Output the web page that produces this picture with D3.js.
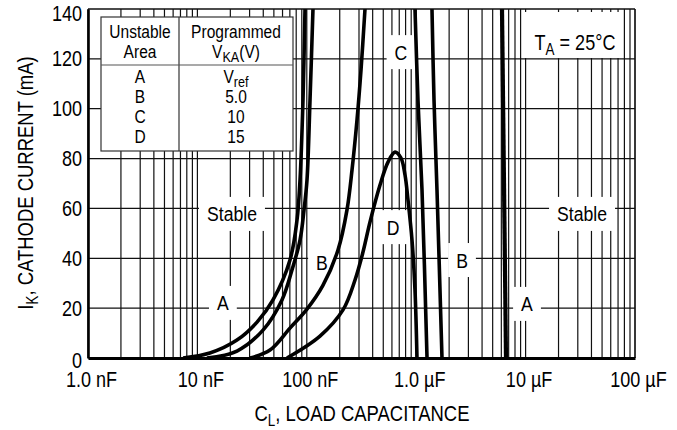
<!DOCTYPE html>
<html>
<head>
<meta charset="utf-8">
<script src="https://cdnjs.cloudflare.com/ajax/libs/d3/7.8.5/d3.min.js"></script>
<style>
  body { margin: 0; background: #fff; }
  svg text { font-family: "Liberation Sans", Arial, sans-serif; fill: #000; }
</style>
</head>
<body>
<svg id="chart" width="677" height="430"></svg>
<script>
const width = 677, height = 430;
const margin = {top: 9, right: 42, bottom: 72, left: 88};
const narrow = 0.84; // the source uses a condensed face

// capacitance in nF, cathode current in mA
const xTicks = [1, 10, 100, 1000, 10000, 100000];
const xTickLabels = ["1.0 nF", "10 nF", "100 nF", "1.0 µF", "10 µF", "100 µF"];
const yTicks = [0, 20, 40, 60, 80, 100, 120, 140];

// boundary curves [capacitance nF, current mA]
const curveALeft = [[7.4,0],[13.0,2.0],[23.0,7.2],[35.1,14.4],[49.1,23.3],[70.2,39.3],[81.4,55.4],[86.7,71.4],[92.3,103.5],[96.3,140]];
const curveBLeft = [[12.2,0],[23.0,2.8],[39.8,11.2],[59.3,23.3],[73.2,35.3],[86.7,47.3],[94.3,59.4],[100.4,71.4],[107.0,103.5],[113.9,140]];
const curveCLeft = [[30.3,0],[46.1,3.2],[70.2,12.0],[100,19.5],[140,29],[192.8,43.3],[233,59.4],[259,75.4],[287.7,95.5],[312.9,115.5],[340.4,140]];
const curveD = [[65.9,0],[132,8.8],[214.2,19.3],[275.9,31.3],[326.3,42.5],[378.4,54.6],[466.9,69.4],[552.4,78.6],[640.1,82.6],[726.6,80.2],[790.4,73.4],[841.4,63.4],[915.4,47.3],[974.7,27.3],[1016.5,0]];
const curveCRight = [[974.7,140],[1038,103.5],[1130,67.4],[1256,0]];
const curveBRight = [[1394,140],[1455,103.5],[1549,67.4],[1721,0]];
const curveARight = [[6085,140],[6620,0]];

// region labels [text, capacitance nF, current mA]
const regionLabels = [
  ["Stable", 20.7, 57.8],
  ["Stable", 32800, 57.8],
  ["A", 17.1, 22.1],
  ["B", 137.7, 38.5],
  ["C", 726, 122.7],
  ["D", 614, 52.5],
  ["B", 2623, 39.3],
  ["A", 10300, 21.7]
];

// legend table
const tableAreas = ["A", "B", "C", "D"];
const tableVolts = [["V", "ref"], ["5.0", ""], ["10", ""], ["15", ""]];

const svg = d3.select("#chart");

// put a text at (px, py) and squeeze it horizontally
function narrowText(parent, px, py, size, anchor) {
  return parent.append("text")
    .attr("transform", `translate(${px}, ${py}) scale(${narrow}, 1)`)
    .attr("text-anchor", anchor || "middle")
    .attr("font-size", size);
}

const x = d3.scaleLog()
  .domain([1, 100000])
  .range([margin.left, width - margin.right]);
const y = d3.scaleLinear()
  .domain([0, 140])
  .range([height - margin.bottom, margin.top]);

// grid
let minorCaps = [];
for (let d = 1; d < 100000; d *= 10) {
  for (let k = 1; k < 10; k++) minorCaps.push(d * k);
}
minorCaps.push(100000);

svg.append("g")
  .selectAll("line")
  .data(minorCaps).enter()
  .append("line")
  .attr("x1", d => x(d)).attr("x2", d => x(d))
  .attr("y1", y(0)).attr("y2", y(140))
  .attr("stroke", "#111")
  .attr("stroke-width", 1.2);

svg.append("g")
  .selectAll("line")
  .data(yTicks).enter()
  .append("line")
  .attr("x1", x(1)).attr("x2", x(100000))
  .attr("y1", d => y(d)).attr("y2", d => y(d))
  .attr("stroke", "#111")
  .attr("stroke-width", 1.2);

// label boxes (white, cut the grid)
const labelG = svg.append("g");
regionLabels.forEach(([t, c, i]) => {
  let txt = narrowText(labelG, x(c), y(i), 21).attr("dy", "0.36em").text(t);
  let w = txt.node().getBBox().width * narrow;
  labelG.insert("rect", "text")
    .attr("x", x(c) - w / 2 - 8).attr("y", y(i) - 17)
    .attr("width", w + 16).attr("height", 34)
    .attr("fill", "#fff");
});

// table
const tab = {x: 101, y: 17, w: 192, h: 134, col: 179, head: 65};
const tg = svg.append("g");
tg.append("rect")
  .attr("x", tab.x).attr("y", tab.y).attr("width", tab.w).attr("height", tab.h)
  .attr("fill", "#fff").attr("stroke", "#333").attr("stroke-width", 1.2);
tg.append("line")
  .attr("x1", tab.col).attr("x2", tab.col).attr("y1", tab.y).attr("y2", tab.y + tab.h)
  .attr("stroke", "#333").attr("stroke-width", 1.2);
tg.append("line")
  .attr("x1", tab.x).attr("x2", tab.x + tab.w).attr("y1", tab.head).attr("y2", tab.head)
  .attr("stroke", "#555").attr("stroke-width", 1.2);

const c1 = (tab.x + tab.col) / 2, c2 = (tab.col + tab.x + tab.w) / 2;
narrowText(tg, c1, 38, 18.5).text("Unstable");
narrowText(tg, c1, 58, 18.5).text("Area");
narrowText(tg, c2, 38, 18.5).text("Programmed");
let vka = narrowText(tg, c2, 58, 18.5);
vka.append("tspan").text("V");
vka.append("tspan").attr("dy", 4).attr("font-size", 15).text("KA");
vka.append("tspan").attr("dy", -4).text("(V)");

tableAreas.forEach((a, i) => {
  let yy = 83 + i * 20;
  narrowText(tg, c1, yy, 18.5).text(a);
  let t = narrowText(tg, c2, yy, 18.5);
  t.append("tspan").text(tableVolts[i][0]);
  if (tableVolts[i][1]) t.append("tspan").attr("dy", 4).attr("font-size", 15).text(tableVolts[i][1]);
});

// temperature box
const ta = svg.append("g");
ta.append("rect").attr("x", 523).attr("y", 12).attr("width", 100).attr("height", 46).attr("fill", "#fff");
let tat = narrowText(ta, 575, 50, 21.5);
tat.append("tspan").text("T");
tat.append("tspan").attr("dy", 5).attr("font-size", 16).text("A");
tat.append("tspan").attr("dy", -5).text(" = 25°C");

// curves
const line = d3.line()
  .x(d => x(d[0]))
  .y(d => y(d[1]))
  .curve(d3.curveCatmullRom.alpha(0.5));

svg.append("clipPath").attr("id", "plot-clip")
  .append("rect")
  .attr("x", margin.left).attr("y", margin.top)
  .attr("width", width - margin.left - margin.right)
  .attr("height", height - margin.top - margin.bottom);

svg.append("g")
  .attr("clip-path", "url(#plot-clip)")
  .selectAll("path")
  .data([curveALeft, curveBLeft, curveCLeft, curveD, curveCRight, curveBRight, curveARight]).enter()
  .append("path")
  .attr("d", line)
  .attr("fill", "none")
  .attr("stroke", "#000")
  .attr("stroke-width", (d, i) => i === 6 ? 4.2 : 3.6)
  .attr("stroke-linecap", "butt");

// frame
svg.append("line").attr("x1", x(1)).attr("x2", x(100000)).attr("y1", y(140)).attr("y2", y(140))
  .attr("stroke", "#111").attr("stroke-width", 1.2);
svg.append("line").attr("x1", x(100000)).attr("x2", x(100000)).attr("y1", y(0)).attr("y2", y(140))
  .attr("stroke", "#111").attr("stroke-width", 1.2);

// axes
const xAxis = d3.axisBottom(x).tickValues(xTicks).tickFormat((d, i) => xTickLabels[i]).tickSize(0).tickPadding(14);
const gx = svg.append("g").attr("transform", `translate(0, ${y(0)})`).call(xAxis);
gx.select(".domain").attr("stroke", "#000").attr("stroke-width", 3.2);
gx.selectAll("text").attr("font-size", 21.5).attr("font-family", null)
  .attr("transform", `translate(3, 0) scale(${narrow}, 1)`);

const yAxis = d3.axisLeft(y).tickValues(yTicks).tickSize(0).tickPadding(7);
const gy = svg.append("g").attr("transform", `translate(${x(1)}, 0)`).call(yAxis);
gy.select(".domain").attr("stroke", "#000").attr("stroke-width", 2.6);
gy.selectAll("text").attr("font-size", 21.5).attr("font-family", null)
  .attr("x", -6 / narrow)
  .attr("transform", `scale(${narrow}, 1)`)
  .attr("dy", d => d === 140 ? "0.55em" : d === 0 ? "0.42em" : "0.32em");

// axis titles
let xt = narrowText(svg, 362, 421, 22);
xt.append("tspan").text("C");
xt.append("tspan").attr("dy", 5).attr("font-size", 16).text("L");
xt.append("tspan").attr("dy", -5).text(", LOAD CAPACITANCE");

let yt = svg.append("text")
  .attr("transform", `translate(33, 183) rotate(-90) scale(${narrow}, 1)`)
  .attr("text-anchor", "middle").attr("font-size", 22);
yt.append("tspan").text("I");
yt.append("tspan").attr("dy", 5).attr("font-size", 16).text("K");
yt.append("tspan").attr("dy", -5).text(", CATHODE CURRENT (mA)");
</script>
</body>
</html>
